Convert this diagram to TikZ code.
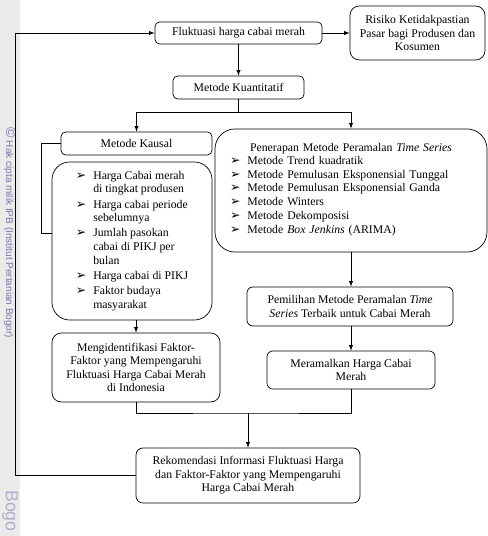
\documentclass[tikz,border=0pt]{standalone}
\usepackage{fontspec}
\setmainfont{Liberation Serif}
\newfontfamily\symfont{DejaVu Sans}
\newfontfamily\wmfont{Liberation Sans}
\usetikzlibrary{arrows}
\newcommand{\bul}{{\symfont\fontsize{10.5}{10}\selectfont ➢}}
\definecolor{wmgray}{HTML}{EBEBEB}
\definecolor{wmtext}{HTML}{7C79A8}
\definecolor{wmbig}{HTML}{B3ADCC}

\begin{document}
\begin{tikzpicture}[x=0.85pt, y=-0.85pt, >=latex, line width=0.6pt,
	box/.style={draw, rounded corners=4pt, inner sep=0pt, align=center, font=\fontsize{10}{11.5}\selectfont},
	bigbox/.style={box, rounded corners=15pt}]
	\useasboundingbox (0,0) rectangle (488,536);
	% left strip
	\fill[wmgray] (0,0) rectangle (20,536);
	\node[rotate=-90, text=wmtext, font=\wmfont\fontsize{8.5}{9}\selectfont] (wm) at (10,233) {\fontsize{12}{12}\selectfont ©\fontsize{8.5}{9}\selectfont{} Hak cipta milik IPB (Institut Pertanian Bogor)};
	\node[rotate=-90, anchor=west, text=wmbig, font=\wmfont\fontsize{15}{15}\selectfont, inner sep=0pt] (wmb) at (10,490) {Bogo};

	% boxes
	\node[box, minimum width=142pt, minimum height=18.7pt] (fluk) at (238.5,33) {Fluktuasi harga cabai merah};
	\node[box, rounded corners=8pt, minimum width=114.8pt, minimum height=45.9pt] (risiko) at (417.5,33) {Risiko Ketidakpastian\\Pasar bagi Produsen dan\\Kosumen};
	\node[box, minimum width=111.4pt, minimum height=19.6pt] (kuant) at (238.5,87.5) {Metode Kuantitatif};
	\node[box, minimum width=128.4pt, minimum height=19.6pt] (kausal) at (136.5,143.5) {Metode Kausal};
	\node[bigbox, minimum width=136pt, minimum height=134.3pt] (faktor) at (132,241) {%
		\begin{tabular}{@{}l@{\hspace{6pt}}l@{}}
			\bul & Harga Cabai merah\\
			     & di tingkat produsen\\[1.5pt]
			\bul & Harga cabai periode\\
			     & sebelumnya\\[1.5pt]
			\bul & Jumlah pasokan\\
			     & cabai di PIKJ per\\
			     & bulan\\[1.5pt]
			\bul & Harga cabai di PIKJ\\[1.5pt]
			\bul & Faktor budaya\\
			     & masyarakat
		\end{tabular}};
	\node[bigbox, rounded corners=17pt, align=left, text width=205.7pt, inner xsep=12.75pt, minimum width=231.2pt, minimum height=104.6pt] (penerapan) at (351,190.5) {%
		\noindent{\centering Penerapan Metode Peramalan \textit{Time Series}\par}
		\noindent\begin{tabular}[t]{@{}l@{\hspace{6pt}}l@{}}
			\bul & Metode Trend kuadratik\\
			\bul & Metode Pemulusan Eksponensial Tunggal\\
			\bul & Metode Pemulusan Eksponensial Ganda\\
			\bul & Metode Winters\\
			\bul & Metode Dekomposisi\\[1pt]
			\bul & Metode \textit{Box Jenkins} (ARIMA)
		\end{tabular}};
	\node[box, rounded corners=5pt, minimum width=175.1pt, minimum height=33.2pt] (pemilihan) at (350,306.5) {Pemilihan Metode Peramalan \textit{Time}\\\textit{Series} Terbaik untuk Cabai Merah};
	\node[box, rounded corners=5pt, minimum width=142.8pt, minimum height=32.3pt] (ramal) at (351,370) {Meramalkan Harga Cabai\\Merah};
	\node[box, rounded corners=8pt, minimum width=142.8pt, minimum height=58.7pt] (ident) at (136,367.5) {Mengidentifikasi Faktor-\\Faktor yang Mempengaruhi\\Fluktuasi Harga Cabai Merah\\di Indonesia};
	\node[box, rounded corners=6pt, minimum width=190.4pt, minimum height=46.8pt] (rekom) at (248,475.5) {Rekomendasi Informasi Fluktuasi Harga\\dan Faktor-Faktor yang Mempengaruhi\\Harga Cabai Merah};

	% connectors
	\coordinate (split) at (238.5,112);
	\coordinate (join) at (248,413);
	\coordinate (back) at (15,33);
	\draw[->] (fluk.east) -- (risiko.west);
	\draw[->] (fluk) -- (kuant);
	\draw (kuant) -- (split);
	\draw[->] (split) -| (kausal);
	\draw[->] (split) -| (penerapan);
	\draw (kausal.west) -- ++(-19,0) |- ([yshift=6.8pt]faktor.west);
	\draw[->] (faktor.south -| ident.north) -- (ident.north);
	\draw[->] (penerapan.south) -- (penerapan.south |- pemilihan.north);
	\draw[->] (pemilihan.south -| ramal.north) -- (ramal.north);
	\draw (ident.south) |- (join) -| (ramal.south);
	\draw[->] (join) -- (rekom.north);
	\draw[->] (rekom.west) -| (back) -- (fluk.west);
\end{tikzpicture}
\end{document}
